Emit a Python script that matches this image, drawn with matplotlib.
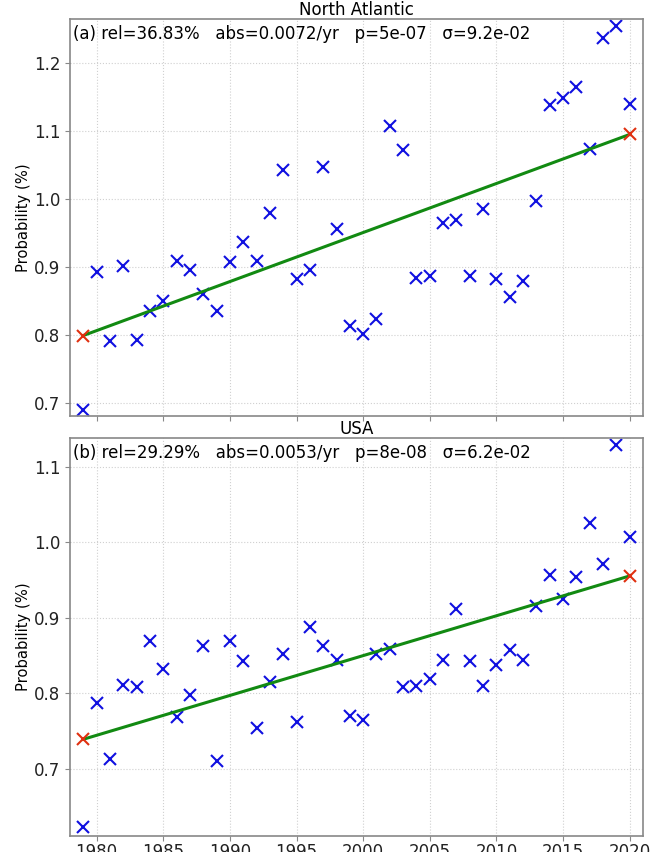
import numpy as np
import matplotlib
matplotlib.use('Agg')
import matplotlib.pyplot as plt

years = np.arange(1979, 2021)

north_atlantic = [0.690, 0.893, 0.792, 0.902, 0.793, 0.836, 0.850, 0.909, 0.896, 0.860,
                  0.836, 0.908, 0.937, 0.909, 0.979, 1.043, 0.883, 0.896, 1.048, 0.956,
                  0.814, 0.802, 0.823, 1.107, 1.072, 0.884, 0.887, 0.965, 0.969, 0.887,
                  0.985, 0.883, 0.856, 0.879, 0.998, 1.139, 1.149, 1.165, 1.074, 1.237,
                  1.255, 1.140]
usa = [0.622, 0.787, 0.712, 0.811, 0.808, 0.869, 0.832, 0.769, 0.797, 0.862,
       0.710, 0.869, 0.843, 0.754, 0.815, 0.852, 0.762, 0.888, 0.863, 0.844,
       0.770, 0.764, 0.852, 0.858, 0.808, 0.810, 0.819, 0.844, 0.912, 0.843,
       0.809, 0.837, 0.857, 0.844, 0.915, 0.957, 0.925, 0.954, 1.026, 0.972,
       1.129, 1.007]

titles = ['North Atlantic', 'USA']
labels = ['(a) rel=36.83%   abs=0.0072/yr   p=5e-07   \u03c3=9.2e-02',
          '(b) rel=29.29%   abs=0.0053/yr   p=8e-08   \u03c3=6.2e-02']
ylims = [(0.681, 1.265), (0.6105, 1.1385)]

fig = plt.figure(figsize=(6.6, 8.52), dpi=100)
ax1 = fig.add_axes([70 / 660, 1 - 416 / 852, 573 / 660, 397 / 852])
ax2 = fig.add_axes([70 / 660, 1 - 836 / 852, 573 / 660, 398 / 852])

for ax, vals, title, label, ylim in zip([ax1, ax2], [north_atlantic, usa], titles, labels, ylims):
    vals = np.array(vals)
    k, b = np.polyfit(years, vals, 1)
    trend = k * years + b
    ax.plot(years, vals, 'x', color='#1010e0', markersize=9, markeredgewidth=1.5)
    ax.plot(years, trend, color='#128a12', linewidth=2.2)
    ax.plot([years[0], years[-1]], [trend[0], trend[-1]], 'x', color='#e03010',
            markersize=9, markeredgewidth=1.5)
    ax.set_xlim(1978, 2021)
    ax.set_ylim(*ylim)
    ax.set_xticks(range(1980, 2021, 5))
    ax.set_yticks(np.arange(0.7, ylim[1], 0.1))
    ax.grid(True, linestyle=':', color='#d0d0d0', linewidth=0.8)
    ax.set_title(title, fontsize=12, pad=1)
    ax.text(0.006, 0.985, label, transform=ax.transAxes, fontsize=12, va='top', ha='left')
    ax.set_ylabel('Probability (%)', fontsize=10.6, labelpad=2)
    ax.tick_params(labelsize=12, length=3.5, color='#888888', labelcolor='#222222')
    ax.tick_params(axis='x', pad=1.5)
    for s in ax.spines.values():
        s.set_color('#888888')
        s.set_linewidth(1.2)

ax1.set_xticklabels([])

fig.savefig('out.png', dpi=100)
